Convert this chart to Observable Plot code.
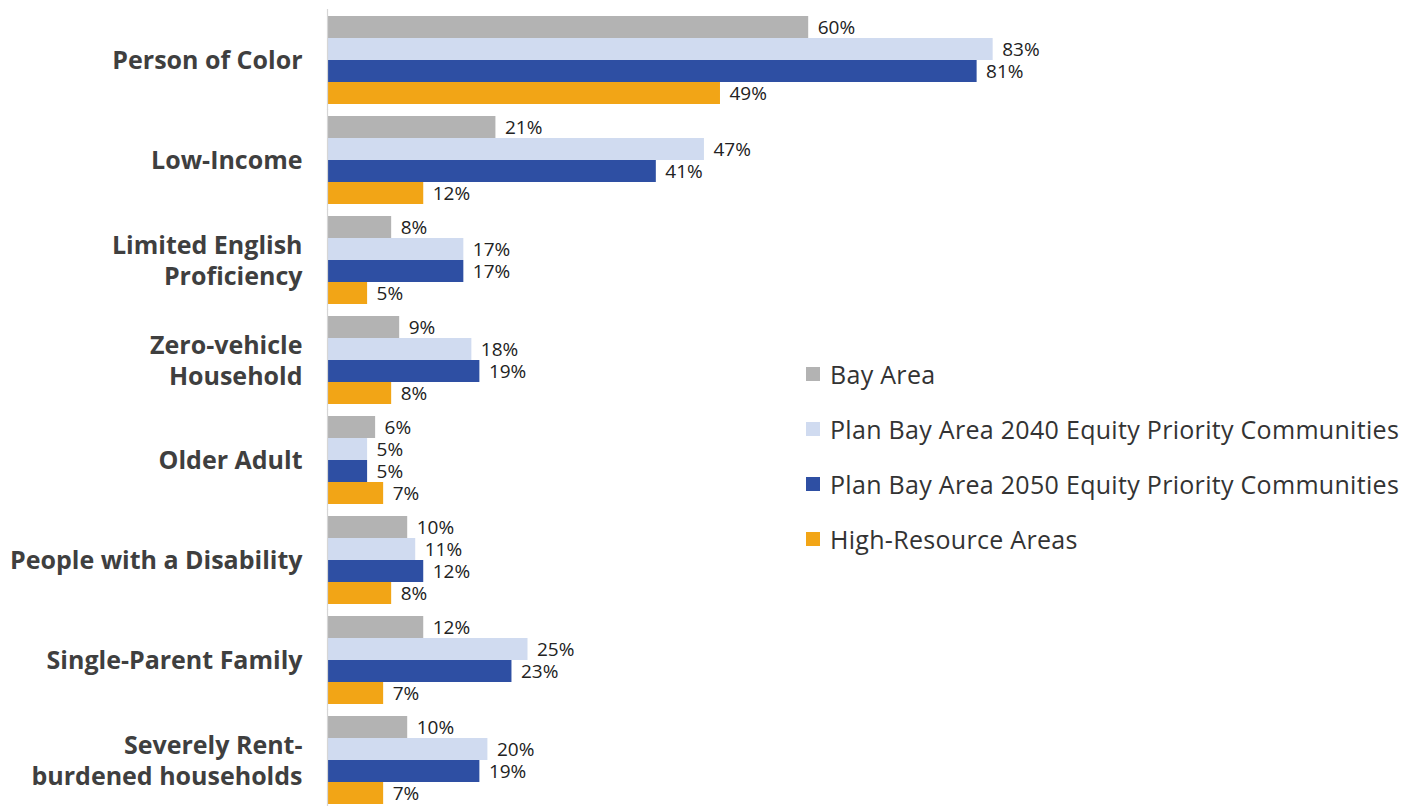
<!DOCTYPE html>
<html>
<head>
<meta charset="utf-8">
<script src="https://cdn.jsdelivr.net/npm/d3@7"></script>
<script src="https://cdn.jsdelivr.net/npm/@observablehq/plot@0.6"></script>
<style>
  html, body { margin: 0; padding: 0; background: #fff; overflow: hidden; }
  #wrap { position: relative; width: 1418px; height: 806px; overflow: hidden; }
  #legend { position: absolute; left: 806px; top: 360px; font-family: "Open Sans", sans-serif; font-size: 25px; letter-spacing: 0.3px; color: #333; }
  #legend .row { display: flex; align-items: center; height: 55px; margin-top: -14px; margin-bottom: 14px; white-space: nowrap; }
  #legend .sw { width: 14px; height: 14px; margin-right: 10px; flex: none; }
</style>
</head>
<body>
<div id="wrap"></div>
<script>
const categories = ["Person of Color", "Low-Income", "Limited English Proficiency", "Zero-vehicle Household", "Older Adult", "People with a Disability", "Single-Parent Family", "Severely Rent-burdened households"];
const categoryLabels = ["Person of Color", "Low-Income", "Limited English\nProficiency", "Zero-vehicle\nHousehold", "Older Adult", "People with a Disability", "Single-Parent Family", "Severely Rent-\nburdened households"];
const series = ["Bay Area", "Plan Bay Area 2040 Equity Priority Communities", "Plan Bay Area 2050 Equity Priority Communities", "High-Resource Areas"];
const colors = ["#b3b3b3", "#d0dbf0", "#2e4fa3", "#f2a516"];
const bayArea = [60, 21, 8, 9, 6, 10, 12, 10];
const pba2040 = [83, 47, 17, 18, 5, 11, 25, 20];
const pba2050 = [81, 41, 17, 19, 5, 12, 23, 19];
const highResource = [49, 12, 5, 8, 7, 8, 7, 7];

const seriesValues = [bayArea, pba2040, pba2050, highResource];
const data = [];
categories.forEach((c, i) => {
  series.forEach((s, j) => data.push({category: c, series: s, value: seriesValues[j][i]}));
});
const labelOf = new Map(categories.map((c, i) => [c, categoryLabels[i]]));

const chart = Plot.plot({
  width: 1418,
  height: 812,
  marginLeft: 327,
  marginRight: 289,
  marginTop: 6,
  marginBottom: 0,
  style: {fontFamily: "Open Sans, sans-serif", background: "#fff"},
  x: {domain: [0, 100], axis: null},
  y: {domain: series, axis: null, padding: 0},
  fy: {domain: categories, paddingInner: 0.11, paddingOuter: 0.055, label: null},
  color: {domain: series, range: colors},
  marks: [
    Plot.barX(data, {x: "value", y: "series", fy: "category", fill: "series"}),
    Plot.ruleX([0], {stroke: "#d6d6d6", strokeWidth: 1.2, insetTop: -6, insetBottom: -6}),
    Plot.text(data, {x: "value", y: "series", fy: "category", text: d => d.value + "%", dx: 9, textAnchor: "start", fontSize: 19, fill: "#222"}),
    Plot.axisFy({anchor: "left", tickSize: 0, tickPadding: 25, fontSize: 25, fontWeight: "bold", fill: "#3f3f3f", lineHeight: 1.24, dy: -0.5, label: null, tickFormat: c => labelOf.get(c)})
  ]
});
const wrap = document.getElementById("wrap");
wrap.appendChild(chart);

const legend = document.createElement("div");
legend.id = "legend";
series.forEach((s, j) => {
  const row = document.createElement("div");
  row.className = "row";
  const sw = document.createElement("span");
  sw.className = "sw";
  sw.style.background = colors[j];
  const t = document.createElement("span");
  t.textContent = s;
  row.appendChild(sw);
  row.appendChild(t);
  legend.appendChild(row);
});
wrap.appendChild(legend);
</script>
</body>
</html>
